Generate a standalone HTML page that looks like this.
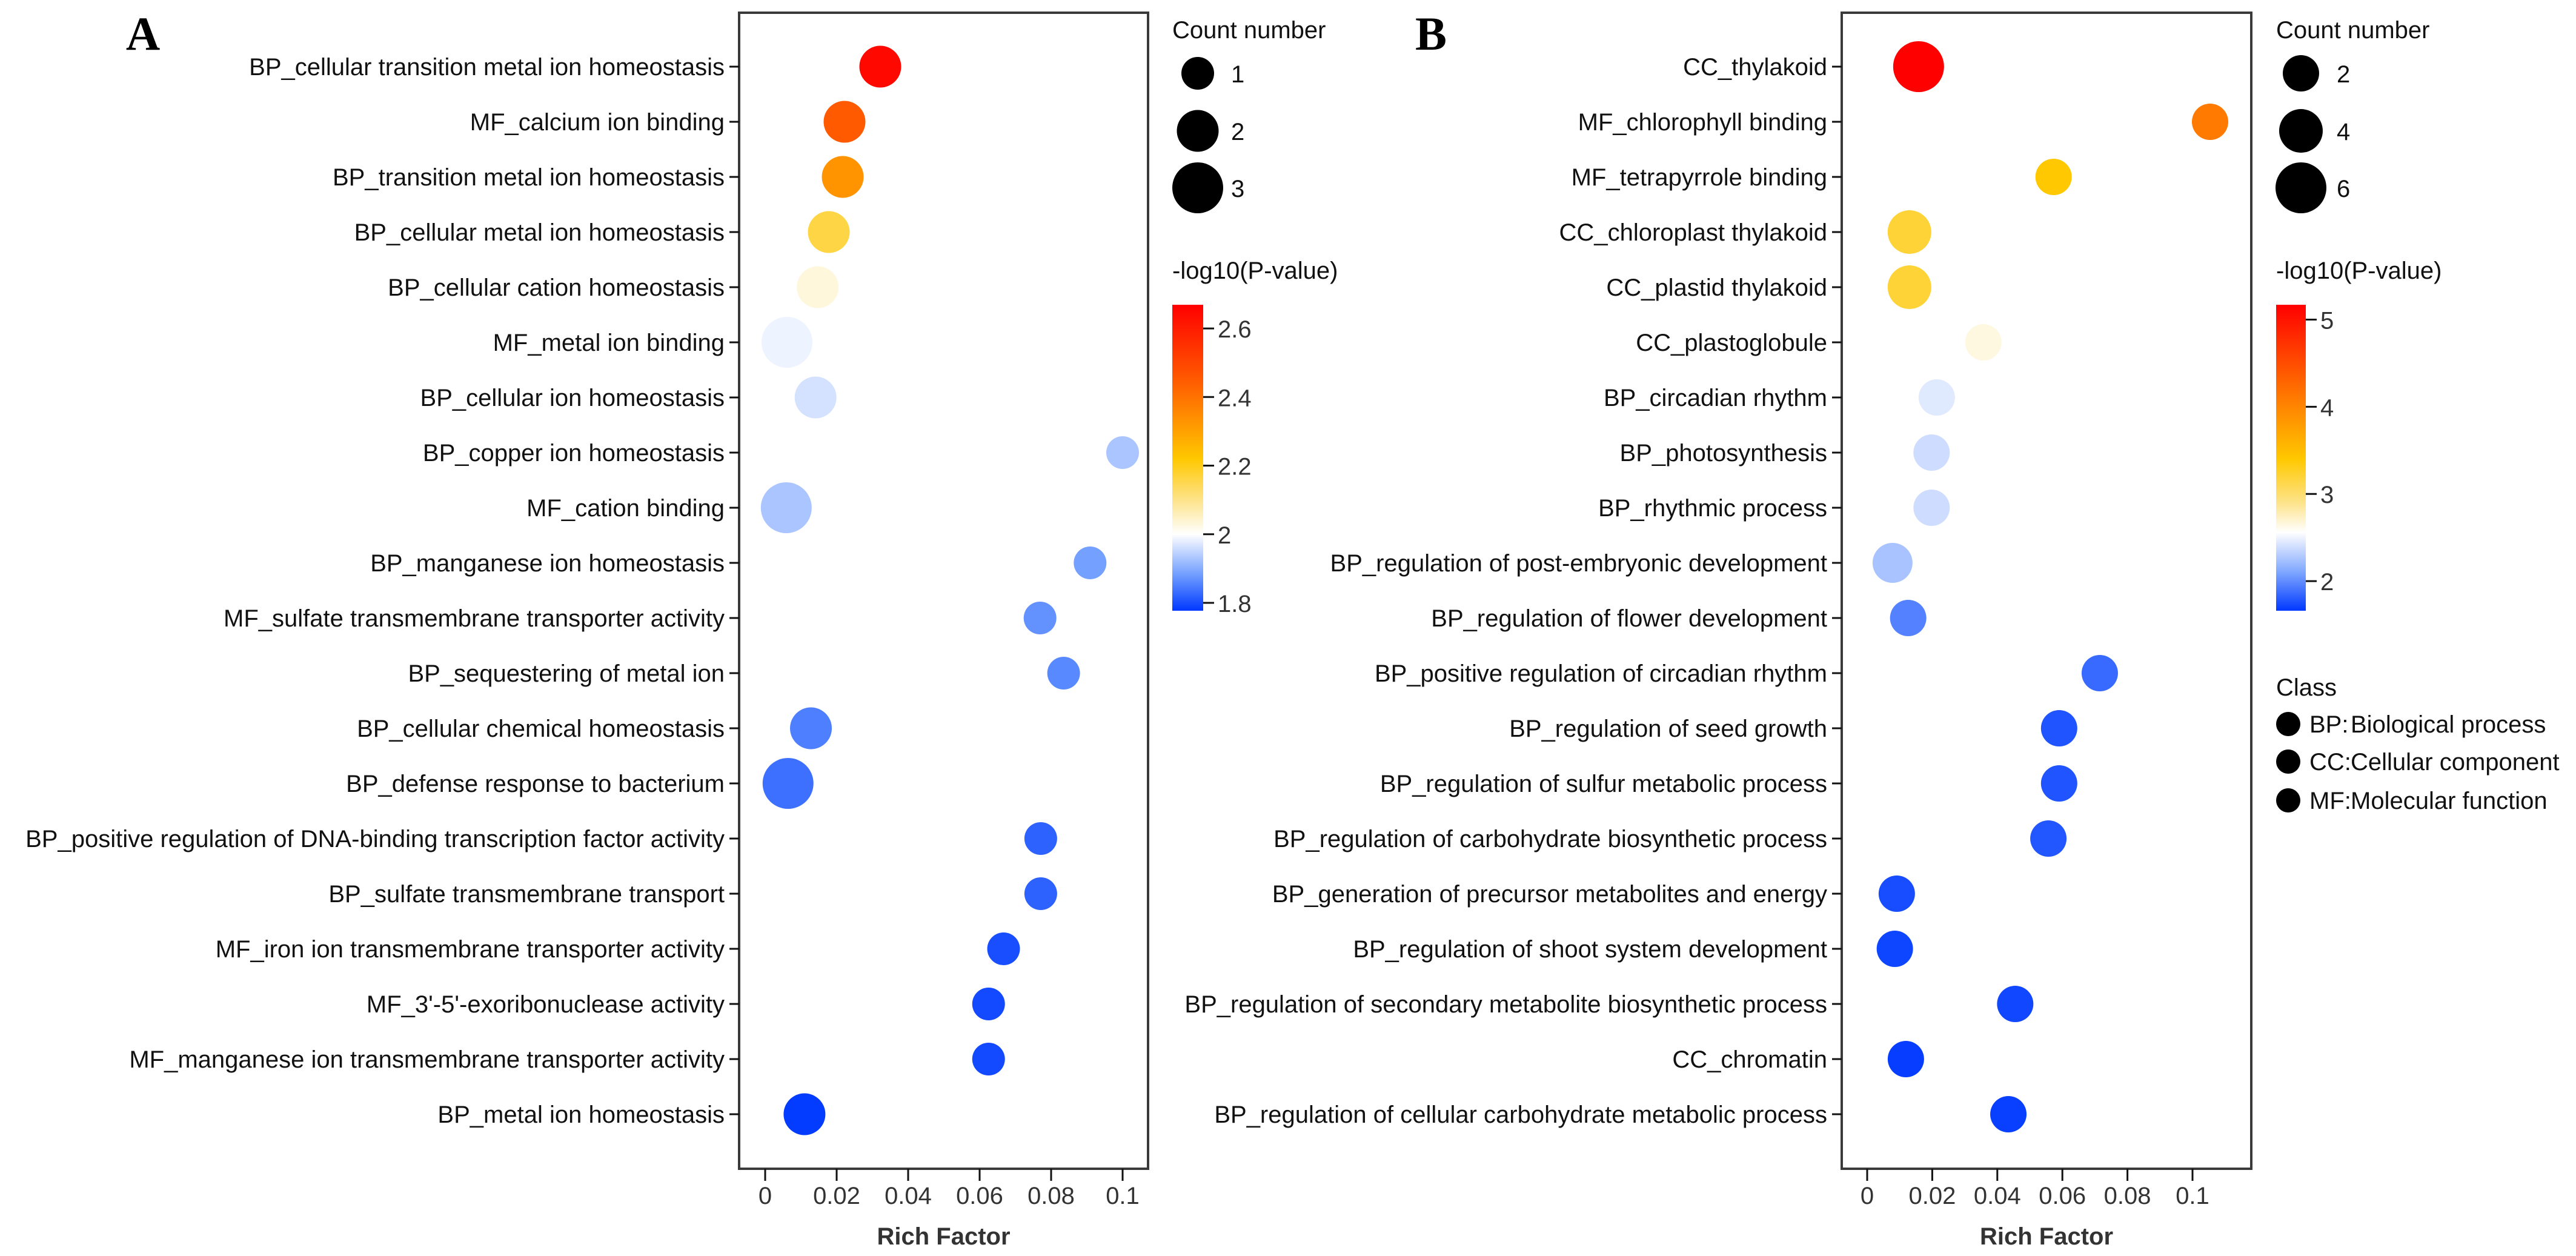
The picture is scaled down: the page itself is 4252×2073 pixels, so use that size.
<!DOCTYPE html>
<html><head><meta charset="utf-8">
<style>
html,body{margin:0;padding:0;background:#fff;}
svg{display:block;font-family:"Liberation Sans",Arial,sans-serif;}
</style></head>
<body>
<svg id="chart" width="4252" height="2073" viewBox="0 0 4252 2073" xmlns="http://www.w3.org/2000/svg">
<defs>
<linearGradient id="gradA" x1="0" y1="1" x2="0" y2="0"></linearGradient>
<linearGradient id="gradB" x1="0" y1="1" x2="0" y2="0"></linearGradient>
</defs>
<text x="236" y="82" font-family="Liberation Serif,serif" font-weight="bold" font-size="78" text-anchor="middle">A</text>
<text x="2362" y="82" font-family="Liberation Serif,serif" font-weight="bold" font-size="78" text-anchor="middle">B</text>
<g id="panelA"></g>
<g id="panelB"></g>
</svg>
<script>
// ---- Panel A data ----
const catsA = ["BP_cellular transition metal ion homeostasis","MF_calcium ion binding","BP_transition metal ion homeostasis","BP_cellular metal ion homeostasis","BP_cellular cation homeostasis","MF_metal ion binding","BP_cellular ion homeostasis","BP_copper ion homeostasis","MF_cation binding","BP_manganese ion homeostasis","MF_sulfate transmembrane transporter activity","BP_sequestering of metal ion","BP_cellular chemical homeostasis","BP_defense response to bacterium","BP_positive regulation of DNA-binding transcription factor activity","BP_sulfate transmembrane transport","MF_iron ion transmembrane transporter activity","MF_3'-5'-exoribonuclease activity","MF_manganese ion transmembrane transporter activity","BP_metal ion homeostasis"];
const richA = [0.0322,0.0222,0.0217,0.0178,0.0147,0.0061,0.0141,0.100,0.0059,0.0909,0.0769,0.0835,0.0128,0.0064,0.0771,0.0771,0.0667,0.0625,0.0625,0.0110];
const countA = [2,2,2,2,2,3,2,1,3,1,1,1,2,3,1,1,1,1,1,2];
const pvalA = [2.65,2.45,2.33,2.16,2.03,1.985,1.965,1.93,1.93,1.885,1.87,1.86,1.85,1.835,1.82,1.82,1.80,1.795,1.795,1.78];
const xTicksA = [0,0.02,0.04,0.06,0.08,0.1];
const xTickLabelsA = ["0","0.02","0.04","0.06","0.08","0.1"];
const sizeLegendA = [1,2,3];
const cbTicksA = [1.8,2,2.2,2.4,2.6];
const cbTickLabelsA = ["1.8","2","2.2","2.4","2.6"];

// ---- Panel B data ----
const catsB = ["CC_thylakoid","MF_chlorophyll binding","MF_tetrapyrrole binding","CC_chloroplast thylakoid","CC_plastid thylakoid","CC_plastoglobule","BP_circadian rhythm","BP_photosynthesis","BP_rhythmic process","BP_regulation of post-embryonic development","BP_regulation of flower development","BP_positive regulation of circadian rhythm","BP_regulation of seed growth","BP_regulation of sulfur metabolic process","BP_regulation of carbohydrate biosynthetic process","BP_generation of precursor metabolites and energy","BP_regulation of shoot system development","BP_regulation of secondary metabolite biosynthetic process","CC_chromatin","BP_regulation of cellular carbohydrate metabolic process"];
const richB = [0.0158,0.1054,0.0573,0.0130,0.0130,0.0357,0.0214,0.0198,0.0198,0.0078,0.0126,0.0715,0.0590,0.0590,0.0557,0.0091,0.0085,0.0455,0.0119,0.0434];
const countB = [6,2,2,4,4,2,2,2,2,3,2,2,2,2,2,2,2,2,2,2];
const pvalB = [5.17,4.1,3.4,3.2,3.2,2.65,2.45,2.38,2.38,2.25,1.95,1.86,1.77,1.77,1.78,1.74,1.71,1.72,1.68,1.69];
const xTicksB = [0,0.02,0.04,0.06,0.08,0.1];
const xTickLabelsB = ["0","0.02","0.04","0.06","0.08","0.1"];
const sizeLegendB = [2,4,6];
const cbTicksB = [2,3,4,5];
const cbTickLabelsB = ["2","3","4","5"];
const classKeys = ["BP:","CC:","MF:"];
const classNames = ["Biological process","Cellular component","Molecular function"];

const NS="http://www.w3.org/2000/svg";
const FS=40;
function mk(parent,tag,attrs,text){const e=document.createElementNS(NS,tag);for(const k in attrs)e.setAttribute(k,attrs[k]);if(text!==undefined)e.textContent=text;parent.appendChild(e);return e;}
function hex(h){return [parseInt(h.slice(1,3),16),parseInt(h.slice(3,5),16),parseInt(h.slice(5,7),16)];}
function colorFn(stops){return v=>{if(v<=stops[0][0])return stops[0][1];if(v>=stops[stops.length-1][0])return stops[stops.length-1][1];for(let i=0;i<stops.length-1;i++){const a=stops[i],b=stops[i+1];if(v>=a[0]&&v<=b[0]){const t=(v-a[0])/(b[0]-a[0]);const ca=hex(a[1]),cb=hex(b[1]);return "rgb("+ca.map((c,j)=>Math.round(c+(cb[j]-c)*t)).join(",")+")";}}};}

function drawPanel(cfg){
  const g=document.getElementById(cfg.gid);
  const row0=110,rowStep=91,top=21,bottom=1929;
  const xs=v=>cfg.x0+v*cfg.xPerUnit;
  const ys=i=>row0+i*rowStep;
  const col=colorFn(cfg.stops);
  const grad=document.getElementById(cfg.gradId);
  cfg.stops.forEach(s=>{mk(grad,"stop",{offset:((s[0]-cfg.cbMin)/(cfg.cbMax-cfg.cbMin)).toFixed(4),"stop-color":s[1]});});
  const box=mk(g,"rect",{x:cfg.left,y:top,width:cfg.right-cfg.left,height:bottom-top,fill:"none",stroke:"#3a3a3a","stroke-width":4});
  
  
  cfg.cats.forEach((c,i)=>{
    const t=mk(g,"line",{x1:cfg.left-16,x2:cfg.left,y1:ys(i),y2:ys(i),stroke:"#111","stroke-width":3});
    
    
    const lb=mk(g,"text",{x:cfg.left-24,y:ys(i)+14,"font-size":FS,"text-anchor":"end",fill:"#111"},c);
    
    
  });
  cfg.xTicks.forEach((v,i)=>{
    const t=mk(g,"line",{x1:xs(v),x2:xs(v),y1:bottom,y2:bottom+20,stroke:"#111","stroke-width":3});
    
    
    const lb=mk(g,"text",{x:xs(v),y:bottom+58,"font-size":FS,"text-anchor":"middle",fill:"#333"},cfg.xTickLabels[i]);
    
    
  });
  const xt=mk(g,"text",{x:(cfg.left+cfg.right)/2,y:2054,"font-size":FS,"font-weight":"bold","text-anchor":"middle",fill:"#333"},"Rich Factor");
  
  
  cfg.cats.forEach((c,i)=>{
    const b=mk(g,"circle",{cx:xs(cfg.rich[i]),cy:ys(i),r:cfg.rFn(cfg.count[i]),fill:col(cfg.pval[i])});
    
    
  });
  const L=cfg.legX;
  const st=mk(g,"text",{x:L,y:63,"font-size":FS,fill:"#111"},"Count number");
  
  
  const sy=[121,216,310];
  cfg.sizeLegend.forEach((v,i)=>{
    const c=mk(g,"circle",{cx:cfg.sizeCx,cy:sy[i],r:cfg.rFn(v),fill:"#000"});
    
    
    const t=mk(g,"text",{x:cfg.sizeLabelX,y:sy[i]+15,"font-size":FS,fill:"#111"},String(v));
    
    
  });
  const ct=mk(g,"text",{x:L,y:460,"font-size":FS,fill:"#111"},"-log10(P-value)");
  
  
  const cbTop=503,cbBot=1008,cbW=cfg.cbW;
  const cb=mk(g,"rect",{x:L,y:cbTop,width:cbW,height:cbBot-cbTop,fill:"url(#"+cfg.gradId+")"});
  
  
  const cy=v=>cbBot-(v-cfg.cbMin)/(cfg.cbMax-cfg.cbMin)*(cbBot-cbTop);
  cfg.cbTicks.forEach((v,i)=>{
    const t=mk(g,"line",{x1:L+cbW,x2:L+cbW+18,y1:cy(v),y2:cy(v),stroke:"#111","stroke-width":3});
    
    
    const lb=mk(g,"text",{x:L+cbW+24,y:cy(v)+15,"font-size":FS,fill:"#333"},cfg.cbTickLabels[i]);
    
    
  });
}

drawPanel({gid:"panelA",gradId:"gradA",cats:catsA,rich:richA,count:countA,pval:pvalA,
  left:1220,right:1895,x0:1263,xPerUnit:5900,xTicks:xTicksA,xTickLabels:xTickLabelsA,
  rFn:c=>19.5+7.5*c,sizeLegend:sizeLegendA,legX:1935,sizeCx:1977,sizeLabelX:2032,
  cbW:51,cbMin:1.777,cbMax:2.669,cbTicks:cbTicksA,cbTickLabels:cbTickLabelsA,
  stops:[[1.777,"#0038ff"],[1.88,"#6e9cff"],[2.0,"#ffffff"],[2.1,"#fde38a"],[2.22,"#ffc800"],[2.45,"#ff5a00"],[2.669,"#ff0000"]]});

drawPanel({gid:"panelB",gradId:"gradB",cats:catsB,rich:richB,count:countB,pval:pvalB,
  left:3040,right:3716,x0:3082,xPerUnit:5370,xTicks:xTicksB,xTickLabels:xTickLabelsB,
  rFn:c=>24+3*c,sizeLegend:sizeLegendB,legX:3757,sizeCx:3798,sizeLabelX:3857,
  cbW:49,cbMin:1.66,cbMax:5.17,cbTicks:cbTicksB,cbTickLabels:cbTickLabelsB,
  stops:[[1.66,"#0038ff"],[2.1,"#7ea6ff"],[2.56,"#ffffff"],[2.9,"#fde38a"],[3.4,"#ffc800"],[4.1,"#ff7a00"],[5.17,"#ff0000"]]});

(function(){
  const g=document.getElementById("panelB");
  const ct=mk(g,"text",{x:3757,y:1148,"font-size":FS,fill:"#111"},"Class");
  
  
  const ys=[1195,1257,1321];
  classKeys.forEach((k,i)=>{
    const c=mk(g,"circle",{cx:3777,cy:ys[i],r:20,fill:"#000"});
    
    
    const t1=mk(g,"text",{x:3812,y:ys[i]+14,"font-size":FS,fill:"#111"},k);
    
    
    const t2=mk(g,"text",{x:3880,y:ys[i]+14,"font-size":FS,fill:"#111"},classNames[i]);
    
    
  });
})();
</script>
</body></html>
